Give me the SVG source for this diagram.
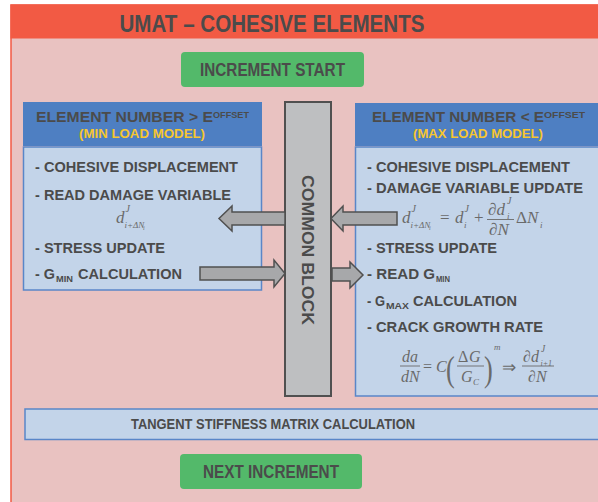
<svg xmlns="http://www.w3.org/2000/svg" width="598" height="502" viewBox="0 0 598 502">
<style>
.t{font-family:"Liberation Sans",Arial,sans-serif;font-weight:bold;fill:#4b4b4b}
.y{font-family:"Liberation Sans",Arial,sans-serif;font-weight:bold;fill:#f7c62f}
.m{font-family:"Liberation Serif","Times New Roman",serif;font-style:italic;fill:#6a6a6a}
.mu{font-family:"Liberation Serif","Times New Roman",serif;fill:#6a6a6a}
.green{fill:#53b96a}
.hdr{fill:#4e7fc2}
.body{fill:#c3d4e9;stroke:#5a86c8;stroke-width:1.5}
.arrow{fill:#a7a8aa;stroke:#505050;stroke-width:1.5;stroke-linejoin:miter}
.bar{stroke:#6a6a6a;stroke-width:0.9}
</style>
<g id="frame">
<rect x="11" y="5" width="600" height="510" fill="#e9c2c1" stroke="#f25a44" stroke-width="1.5"/>
<rect x="10.5" y="4.5" width="600" height="34" fill="#f25a44"/>
<text class="t" x="272" y="31.5" font-size="24.5" text-anchor="middle" textLength="305" lengthAdjust="spacingAndGlyphs">UMAT – COHESIVE ELEMENTS</text>
</g>
<g id="increment-start">
<rect class="green" x="181" y="52" width="183" height="35" rx="4"/>
<text class="t" x="272.5" y="76" font-size="18" text-anchor="middle" textLength="145" lengthAdjust="spacingAndGlyphs">INCREMENT START</text>
</g>
<g id="left-panel">
<rect class="hdr" x="23" y="102" width="239" height="44"/>
<rect class="body" x="23.5" y="147" width="238" height="143"/>
<text class="t" x="36" y="122" font-size="15.5" textLength="177" lengthAdjust="spacingAndGlyphs">ELEMENT NUMBER &gt; E</text>
<text class="t" x="213" y="117.5" font-size="9.5" textLength="36" lengthAdjust="spacingAndGlyphs">OFFSET</text>
<text class="y" x="142" y="138" font-size="13" text-anchor="middle" textLength="126" lengthAdjust="spacingAndGlyphs">(MIN LOAD MODEL)</text>
<text class="t" x="35" y="172" font-size="15" textLength="203" lengthAdjust="spacingAndGlyphs">- COHESIVE DISPLACEMENT</text>
<text class="t" x="35" y="200" font-size="15" textLength="196" lengthAdjust="spacingAndGlyphs">- READ DAMAGE VARIABLE</text>
<text class="m" x="116" y="223" font-size="17">d</text>
<text class="m" x="125.5" y="212" font-size="10">J</text>
<text class="m" x="124.5" y="228" font-size="9">i+ΔN</text>
<text class="m" x="143" y="230" font-size="6">i</text>
<text class="t" x="35" y="253" font-size="15" textLength="130" lengthAdjust="spacingAndGlyphs">- STRESS UPDATE</text>
<text class="t" x="35" y="279" font-size="15" textLength="20" lengthAdjust="spacingAndGlyphs">- G</text>
<text class="t" x="56" y="282" font-size="9.5" textLength="17" lengthAdjust="spacingAndGlyphs">MIN</text>
<text class="t" x="78" y="279" font-size="15" textLength="104" lengthAdjust="spacingAndGlyphs">CALCULATION</text>
</g>
<g id="right-panel">
<rect class="hdr" x="355" y="103" width="250" height="43"/>
<rect class="body" x="355.5" y="147" width="250" height="249"/>
<text class="t" x="372" y="122" font-size="15.5" textLength="172" lengthAdjust="spacingAndGlyphs">ELEMENT NUMBER &lt; E</text>
<text class="t" x="544" y="117.5" font-size="9.5" textLength="41" lengthAdjust="spacingAndGlyphs">OFFSET</text>
<text class="y" x="478" y="138" font-size="13" text-anchor="middle" textLength="130" lengthAdjust="spacingAndGlyphs">(MAX LOAD MODEL)</text>
<text class="t" x="367" y="172" font-size="15" textLength="203" lengthAdjust="spacingAndGlyphs">- COHESIVE DISPLACEMENT</text>
<text class="t" x="367" y="193" font-size="15" textLength="216" lengthAdjust="spacingAndGlyphs">- DAMAGE VARIABLE UPDATE</text>
<text class="m" x="402" y="223" font-size="17">d</text>
<text class="m" x="411.5" y="212" font-size="10">J</text>
<text class="m" x="410.5" y="228" font-size="9">i+ΔN</text>
<text class="m" x="429" y="230" font-size="6">i</text>
<text class="mu" x="440" y="223" font-size="17">=</text>
<text class="m" x="455" y="223" font-size="17">d</text>
<text class="m" x="464.5" y="212" font-size="10">J</text>
<text class="m" x="464" y="228" font-size="9">i</text>
<text class="mu" x="474" y="223" font-size="17">+</text>
<text class="m" x="488" y="215" font-size="17">∂d</text>
<text class="m" x="507" y="204" font-size="10">J</text>
<text class="m" x="507" y="219" font-size="9">i</text>
<line class="bar" x1="487" y1="219.5" x2="514" y2="219.5"/>
<text class="m" x="489" y="235" font-size="17">∂N</text>
<text class="mu" x="516" y="223" font-size="17">Δ</text>
<text class="m" x="527" y="223" font-size="17">N</text>
<text class="m" x="540" y="228" font-size="9">i</text>
<text class="t" x="367" y="253" font-size="15" textLength="130" lengthAdjust="spacingAndGlyphs">- STRESS UPDATE</text>
<text class="t" x="367" y="279" font-size="15" textLength="68" lengthAdjust="spacingAndGlyphs">- READ G</text>
<text class="t" x="436" y="282" font-size="9.5" textLength="14" lengthAdjust="spacingAndGlyphs">MIN</text>
<text class="t" x="367" y="306" font-size="15" textLength="18" lengthAdjust="spacingAndGlyphs">- G</text>
<text class="t" x="386" y="309" font-size="9.5" textLength="23" lengthAdjust="spacingAndGlyphs">MAX</text>
<text class="t" x="413" y="306" font-size="15" textLength="104" lengthAdjust="spacingAndGlyphs">CALCULATION</text>
<text class="t" x="367" y="332" font-size="15" textLength="176" lengthAdjust="spacingAndGlyphs">- CRACK GROWTH RATE</text>
<text class="m" x="402" y="362" font-size="16">da</text>
<line class="bar" x1="400" y1="366" x2="420" y2="366"/>
<text class="m" x="401" y="382" font-size="16">dN</text>
<text class="mu" x="423" y="372" font-size="16">=</text>
<text class="m" x="436" y="372" font-size="16">C</text>
<text class="mu" x="446" y="381" font-size="35" transform="translate(446 381) scale(0.75 1) translate(-446 -381)">(</text>
<text class="mu" x="458" y="362" font-size="16">Δ</text>
<text class="m" x="469" y="362" font-size="16">G</text>
<line class="bar" x1="457" y1="366" x2="484" y2="366"/>
<text class="m" x="461" y="382" font-size="16">G</text>
<text class="m" x="473" y="385" font-size="9">C</text>
<text class="mu" x="484" y="381" font-size="35" transform="translate(484 381) scale(0.75 1) translate(-484 -381)">)</text>
<text class="m" x="494" y="350" font-size="9">m</text>
<text class="mu" x="502" y="373" font-size="17">⇒</text>
<text class="m" x="523" y="362" font-size="16">∂d</text>
<text class="m" x="541" y="352" font-size="9.5">J</text>
<text class="m" x="540.5" y="366" font-size="8">i+1</text>
<line class="bar" x1="522" y1="366" x2="554" y2="366"/>
<text class="m" x="528" y="382" font-size="16">∂N</text>
</g>
<g id="common-block">
<rect x="285" y="102" width="46" height="294" fill="#bebfc1" stroke="#505050" stroke-width="2"/>
<text class="t" font-size="16.5" text-anchor="middle" transform="translate(302 250) rotate(90)" textLength="150" lengthAdjust="spacingAndGlyphs">COMMON BLOCK</text>
</g>
<g id="connectors">
<polygon class="arrow" points="285,212 232,212 232,206 219,218.5 232,231 232,225 285,225"/>
<polygon class="arrow" points="397,212 343,212 343,206 331,218.5 343,231 343,225 397,225"/>
<polygon class="arrow" points="200,267 274,267 274,260 285,273.5 274,287 274,280 200,280"/>
<polygon class="arrow" points="332,268 350,268 350,262 363,275 350,288 350,281 332,281"/>
</g>
<g id="tangent">
<rect class="body" x="25" y="409" width="585" height="30.5"/>
<text class="t" x="273" y="429" font-size="15" text-anchor="middle" textLength="284" lengthAdjust="spacingAndGlyphs">TANGENT STIFFNESS MATRIX CALCULATION</text>
</g>
<g id="next-increment">
<rect class="green" x="180" y="454" width="182" height="35" rx="4"/>
<text class="t" x="271" y="478" font-size="18" text-anchor="middle" textLength="136" lengthAdjust="spacingAndGlyphs">NEXT INCREMENT</text>
</g>
</svg>
